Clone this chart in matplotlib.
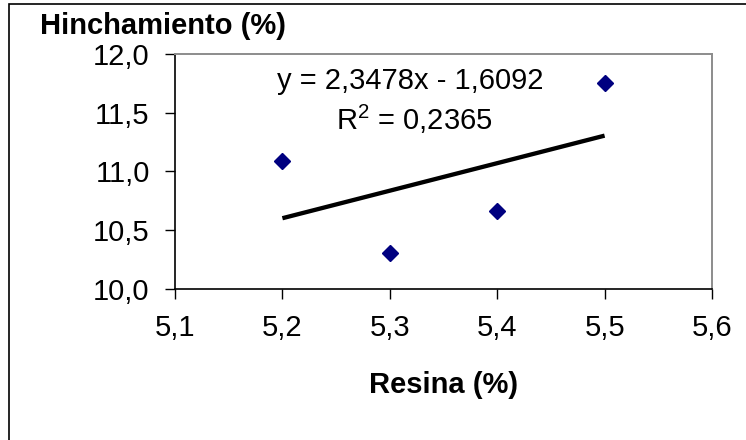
import matplotlib
matplotlib.use("Agg")
import matplotlib.pyplot as plt
from matplotlib.patches import Rectangle
from matplotlib.ticker import FuncFormatter

# Data: resin content vs. swelling
resina = [5.2, 5.3, 5.4, 5.5]
hinchamiento = [11.09, 10.30, 10.665, 11.75]

# Linear trendline as reported
pendiente = 2.3478
intercepto = -1.6092
r2 = 0.2365

x_ticks = [5.1, 5.2, 5.3, 5.4, 5.5, 5.6]
y_ticks = [10.0, 10.5, 11.0, 11.5, 12.0]

plt.rcParams['font.family'] = ['Liberation Sans', 'DejaVu Sans']
plt.rcParams['mathtext.fontset'] = 'custom'
plt.rcParams['mathtext.rm'] = 'Liberation Sans'
plt.rcParams['mathtext.it'] = 'Liberation Sans:italic'
plt.rcParams['mathtext.bf'] = 'Liberation Sans:bold'

FS = 21

W, H = 746, 440
DPI = 100
fig = plt.figure(figsize=(W / DPI, H / DPI), dpi=DPI)
fig.patch.set_facecolor('white')

# plot area in pixel terms
left, right, top, bottom = 175, 712, 54, 288.5
ax = fig.add_axes([left / W, 1 - bottom / H, (right - left) / W, (bottom - top) / H])

ax.set_xlim(x_ticks[0], x_ticks[-1])
ax.set_ylim(y_ticks[0], y_ticks[-1])
ax.set_xticks(x_ticks)
ax.set_yticks(y_ticks)
comma = FuncFormatter(lambda v, p: f"{v:.1f}".replace('.', ','))
ax.xaxis.set_major_formatter(comma)
ax.yaxis.set_major_formatter(comma)

ax.tick_params(direction='out', length=7.2, width=1.0, color='black',
               labelsize=FS, pad=11)

for side in ('left', 'bottom'):
    ax.spines[side].set_color('black')
    ax.spines[side].set_linewidth(1.2)
for side in ('top', 'right'):
    ax.spines[side].set_color('#8c8c8c')
    ax.spines[side].set_linewidth(1.4)

# trendline
tx = [min(resina), max(resina)]
ty = [pendiente * v + intercepto for v in tx]
ax.plot(tx, ty, color='black', linewidth=3.1, solid_capstyle='butt', zorder=2)

# data points
ax.plot(resina, hinchamiento, linestyle='none', marker='D', markersize=8.4,
        color='#000080', markeredgecolor='#000080', zorder=3)

# trendline label
signo = '-' if intercepto < 0 else '+'
eq = f"y = {pendiente:.4f}x {signo} {abs(intercepto):.4f}".replace('.', ',')
r2_txt = "R$^{2}$ = " + f"{r2:.4f}".replace('.', ',')
fig.text(410 / W, 1 - 89 / H, eq, ha='center', va='baseline', fontsize=FS)
fig.text(414 / W, 1 - 130 / H, r2_txt, ha='center', va='baseline', fontsize=FS)

# axis titles
fig.text(40 / W, 1 - 26 / H, 'Hinchamiento (%)', ha='left', va='center',
         fontsize=FS, fontweight='bold')
fig.text((left + right) / 2 / W, 1 - 385 / H, 'Resina (%)', ha='center',
         va='center', fontsize=FS, fontweight='bold')

# chart border
fig.add_artist(Rectangle((8.5 / W, -0.05), 1.2, 1 - 4.5 / H + 0.05,
                         transform=fig.transFigure, fill=False,
                         edgecolor='black', linewidth=1.2))

fig.savefig('out.png', dpi=DPI, facecolor='white')
